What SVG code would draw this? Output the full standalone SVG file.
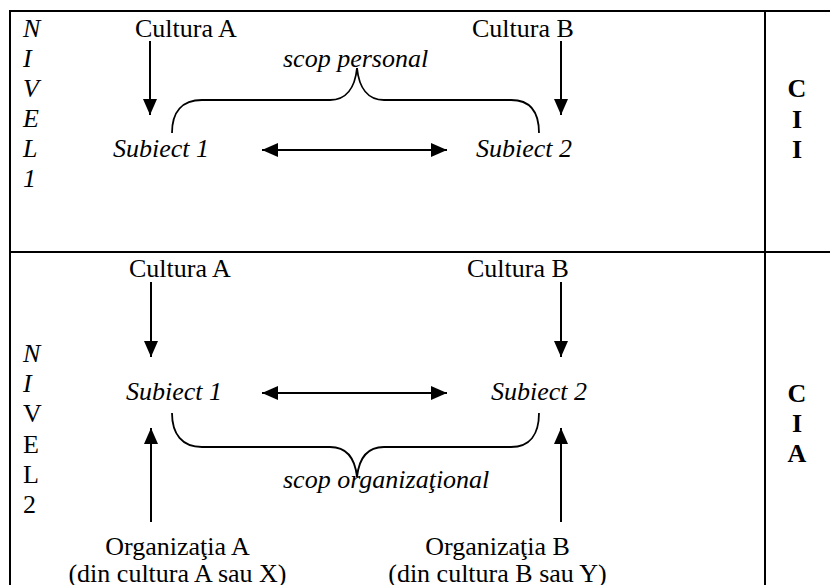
<svg xmlns="http://www.w3.org/2000/svg" width="830" height="585" viewBox="0 0 830 585" font-family="'Liberation Serif', serif" font-size="26">
<defs>
<style>
text{font-family:'Liberation Serif',serif;font-size:26px;fill:#000}
.i{font-style:italic}
.b{font-weight:bold}
.m{text-anchor:middle}
.ln{stroke:#000;stroke-width:2;fill:none}
.ar{stroke:#000;stroke-width:2;fill:none;marker-end:url(#ah)}
.br{stroke:#000;stroke-width:1.8;fill:none}
</style>
<marker id="ah" viewBox="0 0 16 14" refX="16" refY="7" markerWidth="16" markerHeight="14" markerUnits="userSpaceOnUse" orient="auto-start-reverse">
<path d="M0,0 L16,7 L0,14 Z" fill="#000"/>
</marker>
</defs>
<g id="table">
<line class="ln" x1="10" y1="11" x2="830" y2="11"/>
<line class="ln" x1="10" y1="10" x2="10" y2="585"/>
<line class="ln" x1="765" y1="11" x2="765" y2="585"/>
<line class="ln" x1="10" y1="252" x2="830" y2="252"/>
</g>
<g id="nivel1">
<text x="23" y="37" class="i">N</text>
<text x="23" y="67" class="i">I</text>
<text x="23" y="97" class="i">V</text>
<text x="23" y="127" class="i">E</text>
<text x="23" y="157" class="i">L</text>
<text x="23" y="187" class="i">1</text>
</g>
<g id="cii">
<text x="797" y="97" class="b m">C</text>
<text x="797" y="128" class="b m">I</text>
<text x="797" y="158" class="b m">I</text>
</g>
<g id="nivel2">
<text x="23" y="362" class="i">N</text>
<text x="23" y="392" class="i">I</text>
<text x="23" y="422">V</text>
<text x="23" y="453">E</text>
<text x="23" y="483">L</text>
<text x="23" y="513">2</text>
</g>
<g id="cia">
<text x="797" y="402" class="b m">C</text>
<text x="797" y="432" class="b m">I</text>
<text x="797" y="462" class="b m">A</text>
</g>
<g id="cultA1"><text x="135" y="37">Cultura A</text></g>
<g id="cultB1"><text x="472" y="37">Cultura B</text></g>
<g id="subj1a"><text x="113" y="157" class="i">Subiect 1</text></g>
<g id="subj2a"><text x="476" y="157" class="i">Subiect 2</text></g>
<g id="scop1"><text x="283" y="67" class="i">scop personal</text></g>
<g id="cultA2"><text x="129" y="277">Cultura A</text></g>
<g id="cultB2"><text x="467" y="277">Cultura B</text></g>
<g id="subj1b"><text x="126" y="400" class="i">Subiect 1</text></g>
<g id="subj2b"><text x="491" y="400" class="i">Subiect 2</text></g>
<g id="scop2"><text x="283" y="488" class="i">scop organizaţional</text></g>
<g id="orgA"><text x="177.5" y="555" class="m">Organizaţia A</text><text x="177.5" y="582" class="m">(din cultura A sau X)</text></g>
<g id="orgB"><text x="497.5" y="555" class="m">Organizaţia B</text><text x="497.5" y="582" class="m">(din cultura B sau Y)</text></g>
<g id="connectors">
<line class="ar" x1="150" y1="41" x2="150" y2="115"/>
<line class="ar" x1="561" y1="41" x2="561" y2="115"/>
<line class="ar" x1="262" y1="150" x2="447" y2="150" style="marker-start:url(#ah)"/>
<path class="br" d="M172,133 C172,112 182,100 202,100 L330,100 C346,100 355,88 357,68 C359,88 368,100 384,100 L511,100 C530,100 539,112 539,133"/>
<line class="ar" x1="151" y1="282" x2="151" y2="357"/>
<line class="ar" x1="561" y1="282" x2="561" y2="357"/>
<line class="ar" x1="262" y1="393" x2="447" y2="393" style="marker-start:url(#ah)"/>
<path class="br" d="M172,413 C172,434 182,447 202,447 L330,447 C346,447 355,458 357,477 C359,458 368,447 384,447 L511,447 C530,447 539,434 539,413"/>
<line class="ar" x1="151" y1="522" x2="151" y2="428"/>
<line class="ar" x1="561" y1="522" x2="561" y2="428"/>
</g>
</svg>
